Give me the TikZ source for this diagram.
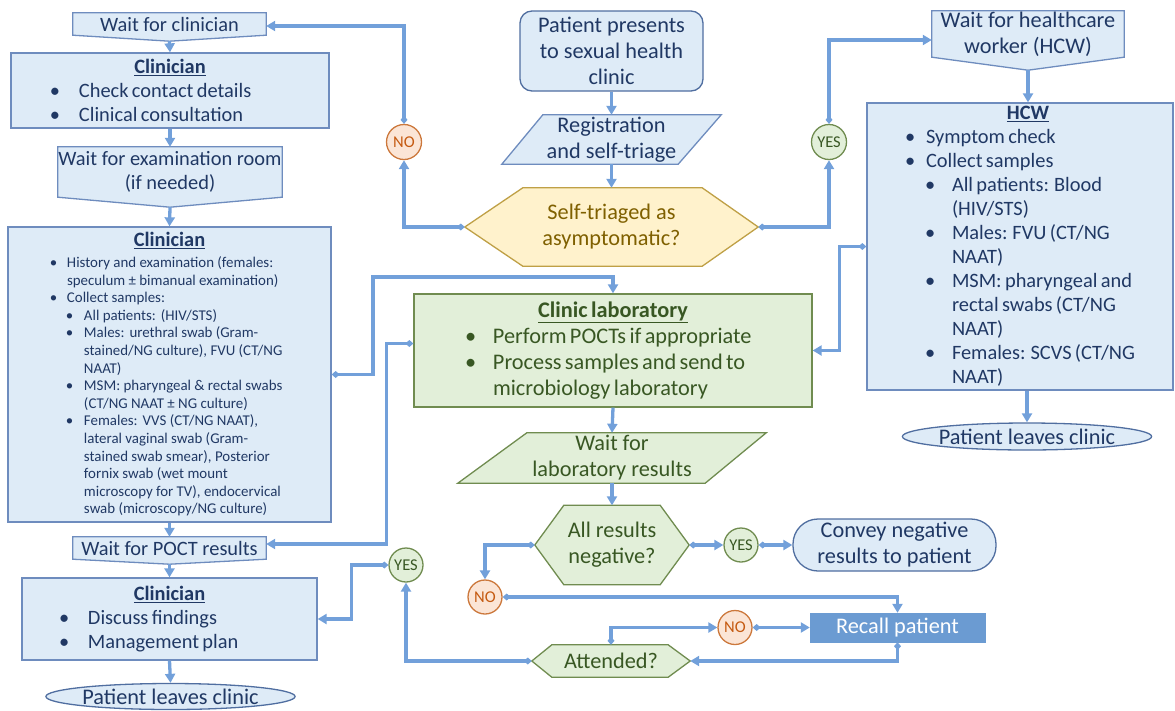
\documentclass[tikz,border=0pt]{standalone}
\usepackage{fontspec}
\setmainfont{Carlito}
\usetikzlibrary{arrows.meta,calc,shapes.geometric}
\pgfdeclarelayer{bg}
\pgfsetlayers{bg,main}
\definecolor{lineblue}{RGB}{114,160,218}
\definecolor{bfill}{RGB}{222,235,247}
\definecolor{bdraw}{RGB}{110,140,190}
\definecolor{bdrawd}{RGB}{80,110,160}
\definecolor{btext}{RGB}{32,56,100}
\definecolor{gfill}{RGB}{226,239,217}
\definecolor{gdraw}{RGB}{112,140,80}
\definecolor{gtext}{RGB}{56,87,35}
\definecolor{yfill}{RGB}{255,242,204}
\definecolor{ydraw}{RGB}{191,160,70}
\definecolor{ytext}{RGB}{127,96,0}
\definecolor{ofill}{RGB}{251,229,214}
\definecolor{odraw}{RGB}{204,120,60}
\definecolor{otext}{RGB}{197,90,17}
\definecolor{recallc}{RGB}{107,155,210}
\newcommand{\FMain}{\fontsize{20.4}{24}\selectfont}
\newcommand{\FBig}{\fontsize{22.3}{26}\selectfont}
\newcommand{\FSmall}{\fontsize{14.9}{17.6}\selectfont}
\newcommand{\FYN}{\fontsize{16.5}{19}\selectfont}
\newcommand{\bitm}[3]{\par\noindent\hangindent=#2\hangafter=1\hbox to #2{\hskip#1\textbullet\hss}#3}
\begin{document}
\begin{tikzpicture}[x=1pt,y=-1pt,
  bluebox/.style={draw=bdraw, fill=bfill, line width=1.3pt, inner sep=0pt, text=btext},
  greenbox/.style={draw=gdraw, fill=gfill, line width=1.3pt, inner sep=0pt, text=gtext},
  bshape/.style={draw=bdraw, fill=bfill, line width=1.3pt},
  gshape/.style={draw=gdraw, fill=gfill, line width=1.3pt},
  yshape/.style={draw=ydraw, fill=yfill, line width=1.3pt},
  txtnode/.style={inner sep=0pt, align=center},
  nocirc/.style={circle, draw=odraw, fill=ofill, line width=1.3pt, minimum size=35pt, inner sep=0pt, text=otext, font=\FYN},
  yescirc/.style={circle, draw=gdraw, fill=gfill, line width=1.3pt, minimum size=35pt, inner sep=0pt, text=gtext, font=\FYN},
  conn/.style={draw=lineblue, line width=3.3pt, {Diamond[length=8pt,width=7pt]}-{Triangle[length=9pt,width=10pt]}},
  conna/.style={draw=lineblue, line width=3.3pt, -{Triangle[length=9pt,width=10pt]}}
]
\useasboundingbox (0,0) rectangle (1175,710);

% ---------- left column ----------
\node[txtnode, minimum width=193pt, minimum height=22pt, font=\FMain, text=btext] (wc) at (169.5,24) {Wait for clinician};
\coordinate (wc-pt) at ($(wc.south)+(0,6)$);

\node[bluebox, minimum width=318pt, minimum height=75pt, text width=318pt] (cl1) at (170,90.5)
 {\FMain\raggedright{\centering\underline{\textbf{Clinician}}\par}
  \bitm{39pt}{68pt}{Check contact details}
  \bitm{39pt}{68pt}{Clinical consultation}\par};

\node[txtnode, minimum width=224pt, minimum height=50pt, font=\FMain, text=btext] (wex) at (170,172) {Wait for examination room\\(if needed)};
\coordinate (wex-pt) at ($(wex.south)+(0,10)$);

\node[bluebox, minimum width=323pt, minimum height=295pt, text width=323pt] (cl2) at (169.5,374.5)
 {\FMain\raggedright{\centering\underline{\textbf{Clinician}}\par}\vspace{3pt}
  \FSmall
  \bitm{42pt}{59pt}{History and examination (females:\newline speculum ± bimanual examination)}
  \bitm{42pt}{59pt}{Collect samples:}
  \bitm{58pt}{76pt}{All patients: (HIV/STS)}
  \bitm{58pt}{76pt}{Males: urethral swab (Gram-\newline stained/NG culture), FVU (CT/NG\newline NAAT)}
  \bitm{58pt}{76pt}{MSM: pharyngeal \& rectal swabs\newline (CT/NG NAAT ± NG culture)}
  \bitm{58pt}{76pt}{Females: VVS (CT/NG NAAT),\newline lateral vaginal swab (Gram-\newline stained swab smear), Posterior\newline fornix swab (wet mount\newline microscopy for TV), endocervical\newline swab (microscopy/NG culture)}\par};

\node[txtnode, minimum width=193pt, minimum height=22pt, font=\FMain, text=btext] (poct) at (169.5,548) {Wait for POCT results};
\coordinate (poct-pt) at ($(poct.south)+(0,5)$);

\node[bluebox, minimum width=295pt, minimum height=82pt, text width=295pt] (cl3) at (169.5,619)
 {\FMain\raggedright{\centering\underline{\textbf{Clinician}}\par}
  \bitm{37pt}{66pt}{Discuss findings}
  \bitm{37pt}{66pt}{Management plan}\par};

\node[ellipse, draw=bdrawd, fill=bfill, line width=1.3pt, inner sep=0pt, minimum width=209pt, minimum height=26pt, text=btext, font=\FBig] (lv1) at (170.5,696.5) {Patient leaves clinic};

% ---------- centre column ----------
\node[txtnode, draw=bdrawd, fill=bfill, line width=1.3pt, rounded corners=12pt, minimum width=183pt, minimum height=80pt, font=\FBig, text=btext] (pp) at (611.5,51) {Patient presents\\to sexual health\\clinic};

\node[txtnode, minimum width=219pt, minimum height=49pt, font=\FBig, text=btext] (reg) at (611.5,139.5) {Registration\\and self-triage};

\node[txtnode, minimum width=293pt, minimum height=78pt, font=\FBig, text=ytext] (tri) at (611.5,227) {Self-triaged as\\asymptomatic?};

\node[nocirc] (no1) at (404,142) {NO};
\node[yescirc] (yes1) at (829,142) {YES};

\node[txtnode, minimum width=192pt, minimum height=46pt, font=\FBig, text=btext] (whcw) at (1028,34) {Wait for healthcare\\worker (HCW)};
\coordinate (whcw-pt) at ($(whcw.south)+(0,13)$);

\node[bluebox, minimum width=306pt, minimum height=287pt, text width=306pt] (hcw) at (1020,246.5)
 {\FMain\raggedright{\centering\hspace*{16pt}\underline{\textbf{HCW}}\par}
  \bitm{38pt}{59pt}{Symptom check}
  \bitm{38pt}{59pt}{Collect samples}
  \bitm{58pt}{85pt}{All patients: Blood\newline (HIV/STS)}
  \bitm{58pt}{85pt}{Males: FVU (CT/NG\newline NAAT)}
  \bitm{58pt}{85pt}{MSM: pharyngeal and\newline rectal swabs (CT/NG\newline NAAT)}
  \bitm{58pt}{85pt}{Females: SCVS (CT/NG\newline NAAT)}\par};

\node[ellipse, draw=bdrawd, fill=bfill, line width=1.3pt, inner sep=0pt, minimum width=208pt, minimum height=27pt, text=btext, font=\FBig] (lv2) at (1027,436.5) {Patient leaves clinic};

\node[greenbox, minimum width=398pt, minimum height=113pt, text width=398pt] (lab) at (613,350.5)
 {\FBig\raggedright{\centering\underline{\textbf{Clinic laboratory}}\par}
  \bitm{51pt}{79pt}{Perform POCTs if appropriate}
  \bitm{51pt}{79pt}{Process samples and send to\newline microbiology laboratory}\par};

\node[txtnode, minimum width=308pt, minimum height=50pt, font=\FBig, text=gtext] (wlab) at (612,458) {Wait for\\laboratory results};

\node[txtnode, minimum width=154pt, minimum height=79pt, font=\FBig, text=gtext] (allr) at (612,545) {All results\\negative?};

\node[yescirc, minimum size=34pt] (yes2) at (741,545) {YES};

\node[txtnode, draw=bdrawd, fill=bfill, line width=1.3pt, rounded corners=25pt, minimum width=203pt, minimum height=52pt, font=\FBig, text=btext] (conv) at (894.5,545) {Convey negative\\results to patient};

\node[nocirc, minimum size=34pt] (no2) at (485,597) {NO};

\node[txtnode, fill=recallc, draw=recallc, minimum width=175pt, minimum height=29pt, font=\FBig, text=white] (recall) at (897.5,627.5) {Recall patient};

\node[nocirc, minimum size=34pt] (no3) at (735,627.5) {NO};

\node[txtnode, minimum width=158pt, minimum height=32pt, font=\FBig, text=gtext] (att) at (611,661) {Attended?};

\node[yescirc, minimum size=34pt] (yes3) at (406,565) {YES};

% ---------- custom shapes (background) ----------
\begin{pgfonlayer}{bg}
\draw[bshape] (wc.north west) -- (wc.north east) -- (wc.south east) -- (wc-pt) -- (wc.south west) -- cycle;
\draw[bshape] (wex.north west) -- (wex.north east) -- (wex.south east) -- (wex-pt) -- (wex.south west) -- cycle;
\draw[bshape] (poct.north west) -- (poct.north east) -- (poct.south east) -- (poct-pt) -- (poct.south west) -- cycle;
\draw[bshape] (whcw.north west) -- (whcw.north east) -- (whcw.south east) -- (whcw-pt) -- (whcw.south west) -- cycle;
\draw[bshape] ($(reg.north west)+(41,0)$) -- (reg.north east) -- ($(reg.south east)+(-43,0)$) -- (reg.south west) -- cycle;
\draw[yshape] (tri.west) -- ($(tri.north west)+(58,0)$) -- ($(tri.north east)+(-56,0)$) -- (tri.east) -- ($(tri.south east)+(-56,0)$) -- ($(tri.south west)+(58,0)$) -- cycle;
\draw[gshape] ($(wlab.north west)+(69,0)$) -- (wlab.north east) -- ($(wlab.south east)+(-61,0)$) -- (wlab.south west) -- cycle;
\draw[gshape] (allr.west) -- ($(allr.north west)+(29,0)$) -- ($(allr.north east)+(-29,0)$) -- (allr.east) -- ($(allr.south east)+(-29,0)$) -- ($(allr.south west)+(29,0)$) -- cycle;
\draw[gshape] (att.west) -- ($(att.north west)+(20,0)$) -- ($(att.north east)+(-22,0)$) -- (att.east) -- ($(att.south east)+(-22,0)$) -- ($(att.south west)+(20,0)$) -- cycle;
\end{pgfonlayer}

% ---------- connectors ----------
\draw[conna] (wc-pt) -- (cl1.north);
\draw[conna] (cl1.south) -- (wex.north);
\draw[conna] (wex-pt) -- (cl2.north);
\draw[conna] (cl2.south) -- (poct.north);
\draw[conna] (poct-pt) -- (cl3.north);
\draw[conna] (cl3.south) -- (lv1.north);

\draw[conna] (pp.south) -- (reg.north);
\draw[conna] (reg.south) -- (tri.north);

\draw[conn] (tri.west) -| (no1.south);
\draw[conn] (no1.north) |- ($(wc.east)+(0,2)$);
\draw[conn] (tri.east) -| (yes1.south);
\draw[conn] (yes1.north) |- ($(whcw.west)+(0,6)$);
\draw[conna] (whcw-pt) -- (whcw-pt |- hcw.north);
\draw[conna] (lv2.north |- hcw.south) -- (lv2.north);

\coordinate (j1) at (373,277);
\draw[conn] (cl2.east) -| (j1) -| (lab.north);
\draw[conn] (hcw.west) -- ++(-27,0) |- (lab.east);
\draw[conn] ($(lab.west)+(0,-7)$) -- ++(-27,0) |- ($(poct.east)+(0,-4)$);

\draw[conna] (lab.south) -- (wlab.north);
\draw[conna] (wlab.south) -- (allr.north);
\draw[conn] (allr.east) -- (yes2.west);
\draw[conn] (yes2.east) -- (conv.west);
\draw[conn] (allr.west) -| (no2.north);
\draw[conn] (no2.east) -| (recall.north);
\draw[conn] (recall.south) |- (att.east);
\draw[conn] (att.north) |- (no3.west);
\draw[conn] (no3.east) -- (recall.west);
\draw[conn] (att.west) -| (yes3.south);
\draw[conn] (yes3.west) -- ++(-37,0) |- (cl3.east);
\end{tikzpicture}
\end{document}
